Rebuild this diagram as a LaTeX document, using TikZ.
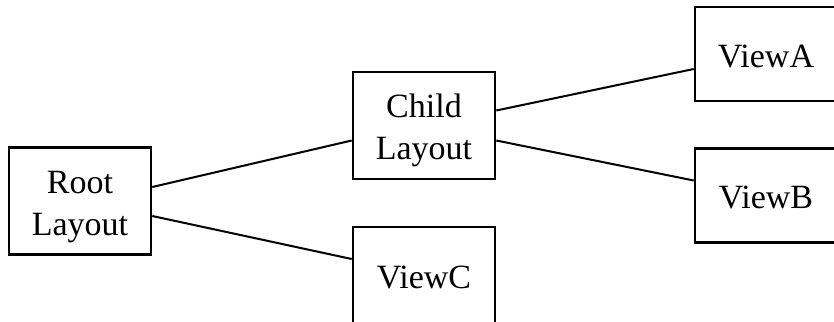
\documentclass[tikz,border=0pt]{standalone}
\usepackage{fontspec}
\setmainfont{Liberation Serif}
\usepackage{tikz}

\begin{document}
\begin{tikzpicture}[x=0.5pt,y=-0.5pt,
    box/.style={draw,line width=1.3pt,minimum width=71pt,inner sep=0pt,align=center,
      text depth=0pt,font=\fontsize{17}{21}\selectfont},
    tall/.style={box,minimum height=53.5pt,text height=34pt},
    short/.style={box,minimum height=47pt,text height=13.3pt},
    link/.style={line width=1pt}]
        % frame
        \useasboundingbox (0,0) rectangle (834,321);
        \clip (0,0) rectangle (834,321);
        % boxes
        \node[tall]  (root)  at (80,201)   {Root\\Layout};
        \node[tall]  (child) at (424,125.5) {Child\\Layout};
        \node[short] (viewA) at (766,54)   {ViewA};
        \node[short] (viewB) at (766,195.5) {ViewB};
        \node[short,minimum height=48pt] (viewC) at (424,275) {ViewC};
        % links
        \draw[link] ([yshift=7pt]root.east)   -- ([yshift=-7.5pt]child.west);
        \draw[link] ([yshift=-7.5pt]root.east) -- ([yshift=8pt]viewC.west);
        \draw[link] ([yshift=7.5pt]child.east) -- ([yshift=-7.5pt]viewA.west);
        \draw[link] ([yshift=-7.5pt]child.east) -- ([yshift=7.5pt]viewB.west);
\end{tikzpicture}
\end{document}
